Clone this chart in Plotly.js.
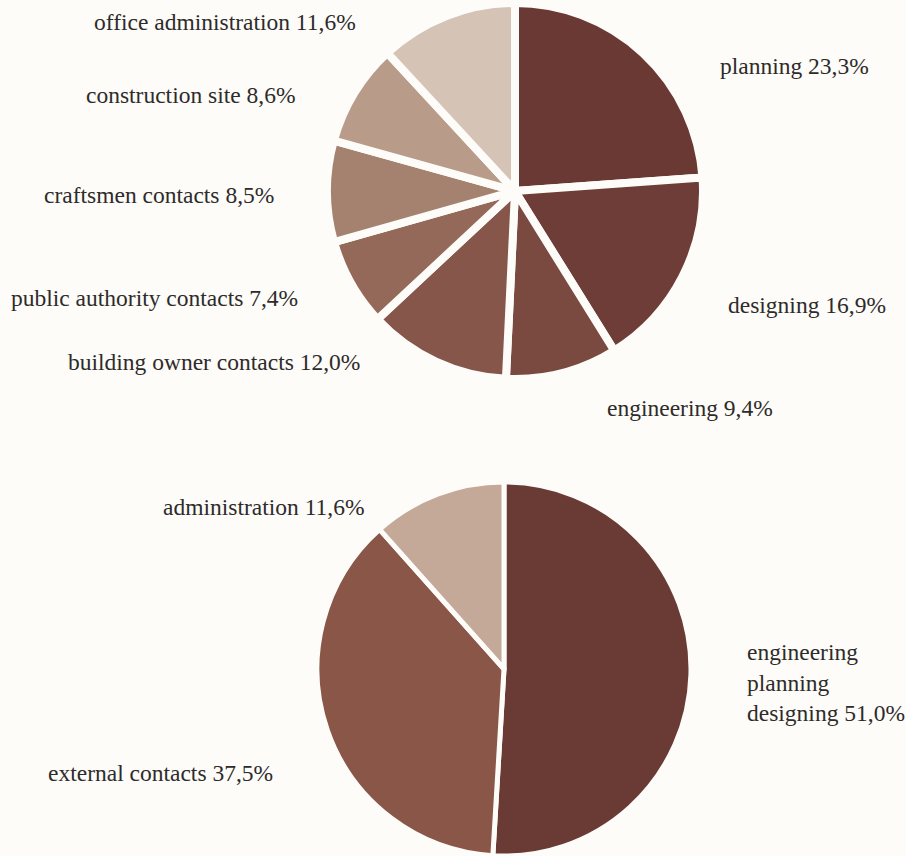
<!DOCTYPE html>
<html>
<head>
<meta charset="utf-8">
<script src="https://cdn.plot.ly/plotly-3.0.1.min.js"></script>
<style>html,body{margin:0;padding:0;background:#fdfcf9;}#chart{width:906px;height:856px;}</style>
</head>
<body>
<div id="chart"></div>
<script>
// Top chart data (clockwise from 12 o'clock)
const topLabels = ["planning", "designing", "engineering", "building owner contacts", "public authority contacts", "craftsmen contacts", "construction site", "office administration"];
const topValues = [23.3, 16.9, 9.4, 12.0, 7.4, 8.5, 8.6, 11.6];
const topColors = ["#6a3934", "#6f3d37", "#7a4a40", "#86564a", "#946959", "#a4826f", "#b89b89", "#d5c3b5"];

// Bottom chart data
const botLabels = ["engineering<br>planning<br>designing", "external contacts", "administration"];
const botValues = [51.0, 37.5, 11.6];
const botColors = ["#6a3a35", "#895647", "#c4a898"];

// Label placement (layout only)
const topLabelPos = [
  {x: 718, y: 66, xanchor: "left"},
  {x: 726, y: 305, xanchor: "left"},
  {x: 605, y: 408, xanchor: "left"},
  {x: 362, y: 362, xanchor: "right"},
  {x: 300, y: 298, xanchor: "right"},
  {x: 276, y: 195, xanchor: "right"},
  {x: 298, y: 95, xanchor: "right"},
  {x: 358, y: 22, xanchor: "right"}
];
const botLabelPos = [
  {x: 745, y: 682, xanchor: "left"},
  {x: 275, y: 773, xanchor: "right"},
  {x: 366, y: 507, xanchor: "right"}
];

const W = 906, H = 856;
function fmt(v){ return v.toFixed(1).replace(".", ",") + "%"; }
function dom(cx, cy, r){
  return {x: [(cx - r) / W, (cx + r) / W], y: [1 - (cy + r) / H, 1 - (cy - r) / H]};
}

const traces = [
  {
    type: "pie", labels: topLabels, values: topValues, sort: false, direction: "clockwise", rotation: 0,
    marker: {colors: topColors, line: {color: "#fdfcf9", width: 8}},
    textinfo: "none", hoverinfo: "skip", showlegend: false,
    domain: dom(515, 191, 188)
  },
  {
    type: "pie", labels: botLabels, values: botValues, sort: false, direction: "clockwise", rotation: 0,
    marker: {colors: botColors, line: {color: "#fdfcf9", width: 5}},
    textinfo: "none", hoverinfo: "skip", showlegend: false,
    domain: dom(504, 670, 188)
  }
];

const font = {family: "Liberation Serif, DejaVu Serif, serif", size: 23.5, color: "#2e2b2a"};
const annotations = [];
topLabels.forEach((l, i) => {
  const p = topLabelPos[i];
  annotations.push({text: l + " " + fmt(topValues[i]), x: p.x / W, y: 1 - p.y / H, xref: "paper", yref: "paper",
    xanchor: p.xanchor, yanchor: "middle", showarrow: false, font: font, align: "left"});
});
botLabels.forEach((l, i) => {
  const p = botLabelPos[i];
  annotations.push({text: l + " " + fmt(botValues[i]), x: p.x / W, y: 1 - p.y / H, xref: "paper", yref: "paper",
    xanchor: p.xanchor, yanchor: "middle", showarrow: false, font: font, align: "left"});
});

const layout = {
  width: W, height: H, margin: {l: 0, r: 0, t: 0, b: 0},
  paper_bgcolor: "#fdfcf9", plot_bgcolor: "#fdfcf9",
  showlegend: false, annotations: annotations
};
Plotly.newPlot("chart", traces, layout, {displayModeBar: false, staticPlot: true});
</script>
</body>
</html>
